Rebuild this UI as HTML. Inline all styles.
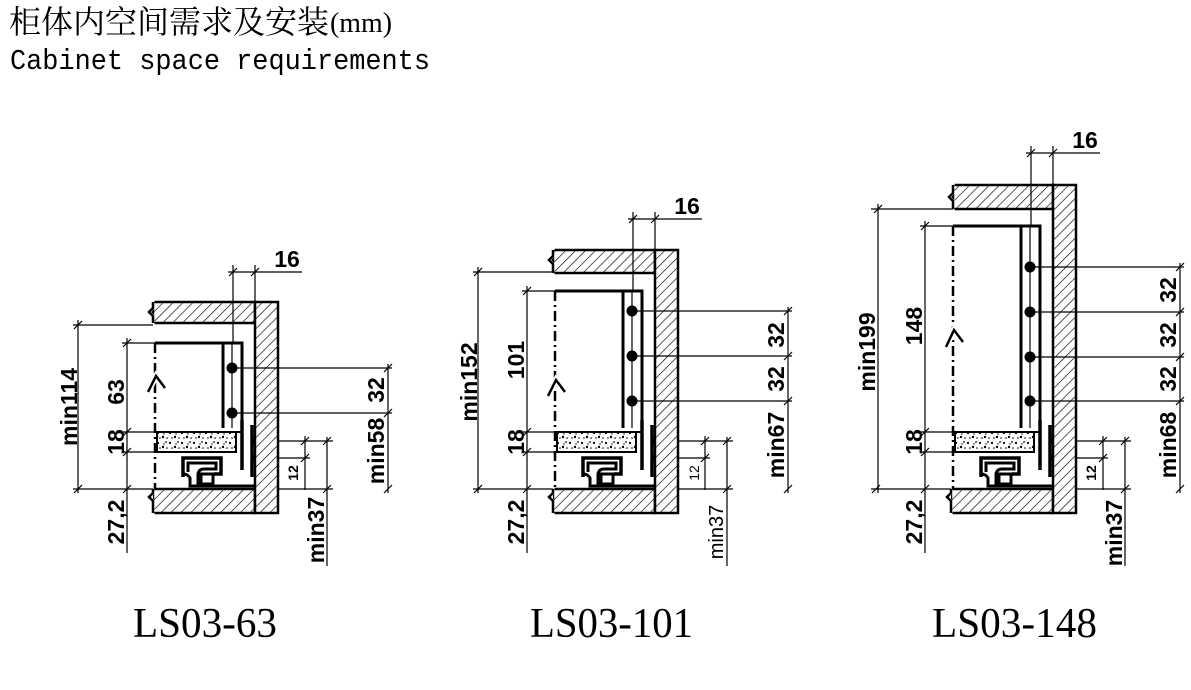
<!DOCTYPE html>
<html><head><meta charset="utf-8"><style>
html,body{margin:0;padding:0;background:#fff;width:1191px;height:690px;overflow:hidden}
svg{display:block}
.t{font-family:"Liberation Sans",sans-serif;font-weight:bold;font-size:23px;fill:#000}
.s{font-family:"Liberation Sans",sans-serif;font-weight:bold;font-size:14px;fill:#000}
.n{font-family:"Liberation Sans",sans-serif;font-size:20px;fill:#000}
.cap{font-family:"Liberation Serif",serif;font-size:42px;fill:#000}
</style></head><body>
<svg width="1191" height="690" viewBox="0 0 1191 690" xmlns="http://www.w3.org/2000/svg">
<defs>
<pattern id="h" patternUnits="userSpaceOnUse" width="7" height="7" patternTransform="rotate(45)">
<rect width="7" height="7" fill="#fff"/><line x1="0" y1="0" x2="0" y2="7" stroke="#000" stroke-width="1.3"/>
</pattern>
<pattern id="d" patternUnits="userSpaceOnUse" width="12" height="10">
<rect width="12" height="10" fill="#fff"/>
<circle cx="2" cy="3" r="1.1"/><circle cx="7" cy="7" r="1.2"/><circle cx="10" cy="2" r="0.9"/><circle cx="4" cy="8" r="0.8"/><circle cx="8" cy="4" r="0.7"/><circle cx="11" cy="8" r="0.8"/>
</pattern>
<g id="bot">
<rect x="153" y="489" width="102" height="24" fill="url(#h)" stroke="#000" stroke-width="2.5"/>
<path d="M153,487 V493 L149,497 L153,501 V515" fill="#fff" stroke="#fff" stroke-width="3"/>
<path d="M153,489 V493 L149,497 L153,501 V513" fill="none" stroke="#000" stroke-width="2.5"/>
<rect x="157" y="432" width="79" height="20" fill="url(#d)" stroke="#000" stroke-width="2"/>
<line x1="242" y1="420" x2="242" y2="470" stroke="#000" stroke-width="3.5"/>
<line x1="236" y1="432" x2="242" y2="432" stroke="#000" stroke-width="2"/>
<line x1="252" y1="425" x2="252" y2="477" stroke="#000" stroke-width="3.5"/>
<path d="M252,437 L262,441 L252,445 Z M252,454 L262,458 L252,462 Z"/>
<path d="M183,477 V458 H221 V474 H214" fill="none" stroke="#000" stroke-width="3.5"/>
<path d="M188,472 V463 H216 V469 H204 Q199,469 198,474 V486 H190 V478 Q188,474 183,474" fill="none" stroke="#000" stroke-width="3"/>
<rect x="201" y="474" width="12" height="10" fill="#fff" stroke="#000" stroke-width="3"/>
<path d="M190,486 H255" fill="none" stroke="#000" stroke-width="3"/>
<g stroke="#000" stroke-width="1.2" fill="none">
<line x1="122" y1="432" x2="155" y2="432"/>
<line x1="122" y1="452" x2="155" y2="452"/>
<line x1="73" y1="489" x2="153" y2="489"/>
<line x1="127" y1="489" x2="127" y2="553"/>
<line x1="258" y1="441" x2="333" y2="441"/>
<line x1="258" y1="458" x2="310" y2="458"/>
<line x1="278" y1="489" x2="333" y2="489"/>
<line x1="305" y1="436" x2="305" y2="490"/>
<line x1="327" y1="437" x2="327" y2="566"/>
<path d="M123,436 l8,-8 M123,456 l8,-8 M74,493 l8,-8 M123,493 l8,-8 M301,445 l8,-8 M301,462 l8,-8 M323,445 l8,-8 M323,493 l8,-8"/>
</g>
</g>
</defs>

<text x="9" y="33" style="font-family:'Noto Serif CJK SC',serif;font-size:32px">柜体内空间需求及安装</text>
<text x="330" y="32" style="font-family:'Liberation Serif',serif;font-size:29px" textLength="62" lengthAdjust="spacingAndGlyphs">(mm)</text>
<text x="10" y="69" style="font-family:'Liberation Mono',monospace;font-size:29px" textLength="420" lengthAdjust="spacingAndGlyphs">Cabinet space requirements</text>

<!-- ===== D1 ===== -->
<use href="#bot"/>
<g stroke="#000" fill="none">
<rect x="153" y="302" width="102" height="21" fill="url(#h)" stroke-width="2.5"/>
<rect x="255" y="302" width="23" height="211" fill="url(#h)" stroke-width="2.5"/>
<path d="M153,300 V308 L149,312 L153,316 V325" stroke="#fff" stroke-width="3"/>
<path d="M153,302 V308 L149,312 L153,316 V323" stroke-width="2.5"/>
<path d="M155,343 H242 V420 M223,343 V428" stroke-width="3"/>
<line x1="232" y1="343" x2="232" y2="428" stroke-width="1.2"/>
<line x1="155" y1="343" x2="155" y2="489" stroke-width="2.5" stroke-dasharray="10 4 2 4"/>
<path d="M148,392 L156,376 L165,388" stroke="#fff" stroke-width="6"/>
<path d="M148,392 L156,376 L165,388" stroke-width="2.5"/>
<g stroke-width="1.2">
<line x1="233" y1="265" x2="233" y2="343"/><line x1="255" y1="265" x2="255" y2="302"/>
<line x1="228" y1="272" x2="302" y2="272"/>
<line x1="73" y1="325" x2="153" y2="325"/><line x1="78" y1="320" x2="78" y2="493"/>
<line x1="122" y1="343" x2="155" y2="343"/><line x1="127" y1="338" x2="127" y2="489"/>
<line x1="232" y1="368" x2="392" y2="368"/><line x1="232" y1="413" x2="392" y2="413"/>
<line x1="388" y1="364" x2="388" y2="493"/>
<path d="M229,276 l8,-8 M251,276 l8,-8 M74,329 l8,-8 M123,347 l8,-8 M384,372 l8,-8 M384,417 l8,-8 M384,493 l8,-8"/>
</g>
</g>
<circle cx="232" cy="368" r="5.5"/><circle cx="232" cy="413" r="5.5"/>
<text class="t" x="287" y="267" text-anchor="middle">16</text>
<text class="t" transform="translate(77,407) rotate(-90)" text-anchor="middle">min114</text>
<text class="t" transform="translate(124,392) rotate(-90)" text-anchor="middle">63</text>
<text class="t" transform="translate(124,442) rotate(-90)" text-anchor="middle">18</text>
<text class="t" transform="translate(124,522) rotate(-90)" text-anchor="middle">27,2</text>
<text class="t" transform="translate(384,390) rotate(-90)" text-anchor="middle">32</text>
<text class="t" transform="translate(384,451) rotate(-90)" text-anchor="middle">min58</text>
<text class="s" transform="translate(298,473) rotate(-90)" text-anchor="middle">12</text>
<text class="t" transform="translate(324,530) rotate(-90)" text-anchor="middle">min37</text>
<text class="cap" x="133" y="637" textLength="144" lengthAdjust="spacingAndGlyphs">LS03-63</text>

<!-- ===== D2 ===== -->
<use href="#bot" x="400"/>
<g stroke="#000" fill="none" transform="translate(400,0)">
<rect x="153" y="250" width="102" height="23" fill="url(#h)" stroke-width="2.5"/>
<rect x="255" y="250" width="23" height="263" fill="url(#h)" stroke-width="2.5"/>
<path d="M153,248 V256 L149,260 L153,264 V275" stroke="#fff" stroke-width="3"/>
<path d="M153,250 V256 L149,260 L153,264 V273" stroke-width="2.5"/>
<path d="M155,291 H242 V420 M223,291 V428" stroke-width="3"/>
<line x1="232" y1="291" x2="232" y2="428" stroke-width="1.2"/>
<line x1="155" y1="291" x2="155" y2="489" stroke-width="2.5" stroke-dasharray="10 4 2 4"/>
<path d="M148,396 L156,380 L165,392" stroke="#fff" stroke-width="6"/>
<path d="M148,396 L156,380 L165,392" stroke-width="2.5"/>
<g stroke-width="1.2">
<line x1="233" y1="212" x2="233" y2="291"/><line x1="255" y1="212" x2="255" y2="250"/>
<line x1="228" y1="219" x2="302" y2="219"/>
<line x1="73" y1="272" x2="153" y2="272"/><line x1="78" y1="267" x2="78" y2="493"/>
<line x1="122" y1="291" x2="155" y2="291"/><line x1="127" y1="286" x2="127" y2="489"/>
<line x1="232" y1="311" x2="392" y2="311"/><line x1="232" y1="356" x2="392" y2="356"/><line x1="232" y1="401" x2="392" y2="401"/>
<line x1="388" y1="307" x2="388" y2="493"/>
<path d="M229,223 l8,-8 M251,223 l8,-8 M74,276 l8,-8 M123,295 l8,-8 M384,315 l8,-8 M384,360 l8,-8 M384,405 l8,-8 M384,493 l8,-8"/>
</g>
</g>
<circle cx="632" cy="311" r="5.5"/><circle cx="632" cy="356" r="5.5"/><circle cx="632" cy="401" r="5.5"/>
<text class="t" x="687" y="214" text-anchor="middle">16</text>
<text class="t" transform="translate(477,382) rotate(-90)" text-anchor="middle">min152</text>
<text class="t" transform="translate(524,360) rotate(-90)" text-anchor="middle">101</text>
<text class="t" transform="translate(524,442) rotate(-90)" text-anchor="middle">18</text>
<text class="t" transform="translate(524,522) rotate(-90)" text-anchor="middle">27,2</text>
<text class="t" transform="translate(784,335) rotate(-90)" text-anchor="middle">32</text>
<text class="t" transform="translate(784,379) rotate(-90)" text-anchor="middle">32</text>
<text class="t" transform="translate(784,445) rotate(-90)" text-anchor="middle">min67</text>
<text class="s" transform="translate(699,473) rotate(-90)" text-anchor="middle" style="font-weight:normal">12</text>
<text class="n" transform="translate(723,532) rotate(-90)" text-anchor="middle">min37</text>
<text class="cap" x="530" y="637" textLength="163" lengthAdjust="spacingAndGlyphs">LS03-101</text>

<!-- ===== D3 ===== -->
<use href="#bot" x="798"/>
<g stroke="#000" fill="none" transform="translate(798,0)">
<rect x="155" y="185" width="100" height="24" fill="url(#h)" stroke-width="2.5"/>
<rect x="255" y="185" width="23" height="328" fill="url(#h)" stroke-width="2.5"/>
<path d="M155,183 V193 L151,197 L155,201 V211" stroke="#fff" stroke-width="3"/>
<path d="M155,185 V193 L151,197 L155,201 V209" stroke-width="2.5"/>
<path d="M155,226 H242 V420 M223,226 V428" stroke-width="3"/>
<line x1="232" y1="226" x2="232" y2="428" stroke-width="1.2"/>
<line x1="155" y1="226" x2="155" y2="489" stroke-width="2.5" stroke-dasharray="10 4 2 4"/>
<path d="M148,347 L156,330 L165,342" stroke="#fff" stroke-width="6"/>
<path d="M148,347 L156,330 L165,342" stroke-width="2.5"/>
<g stroke-width="1.2">
<line x1="233" y1="146" x2="233" y2="226"/><line x1="255" y1="146" x2="255" y2="185"/>
<line x1="228" y1="153" x2="302" y2="153"/>
<line x1="73" y1="209" x2="155" y2="209"/><line x1="80" y1="204" x2="80" y2="493"/>
<line x1="122" y1="226" x2="155" y2="226"/><line x1="127" y1="221" x2="127" y2="489"/>
<line x1="232" y1="267" x2="386" y2="267"/><line x1="232" y1="312" x2="386" y2="312"/><line x1="232" y1="357" x2="386" y2="357"/><line x1="232" y1="401" x2="386" y2="401"/>
<line x1="382" y1="263" x2="382" y2="493"/>
<path d="M229,157 l8,-8 M251,157 l8,-8 M76,213 l8,-8 M123,230 l8,-8 M378,271 l8,-8 M378,316 l8,-8 M378,361 l8,-8 M378,405 l8,-8 M378,493 l8,-8"/>
</g>
</g>
<circle cx="1030" cy="267" r="5.5"/><circle cx="1030" cy="312" r="5.5"/><circle cx="1030" cy="357" r="5.5"/><circle cx="1030" cy="401" r="5.5"/>
<text class="t" x="1085" y="148" text-anchor="middle">16</text>
<text class="t" transform="translate(875,352) rotate(-90)" text-anchor="middle">min199</text>
<text class="t" transform="translate(922,326) rotate(-90)" text-anchor="middle">148</text>
<text class="t" transform="translate(922,442) rotate(-90)" text-anchor="middle">18</text>
<text class="t" transform="translate(922,522) rotate(-90)" text-anchor="middle">27,2</text>
<text class="t" transform="translate(1176,290) rotate(-90)" text-anchor="middle">32</text>
<text class="t" transform="translate(1176,335) rotate(-90)" text-anchor="middle">32</text>
<text class="t" transform="translate(1176,379) rotate(-90)" text-anchor="middle">32</text>
<text class="t" transform="translate(1176,445) rotate(-90)" text-anchor="middle">min68</text>
<text class="s" transform="translate(1096,473) rotate(-90)" text-anchor="middle">12</text>
<text class="t" transform="translate(1122,533) rotate(-90)" text-anchor="middle">min37</text>
<text class="cap" x="932" y="637" textLength="165" lengthAdjust="spacingAndGlyphs">LS03-148</text>
</svg>
</body></html>
